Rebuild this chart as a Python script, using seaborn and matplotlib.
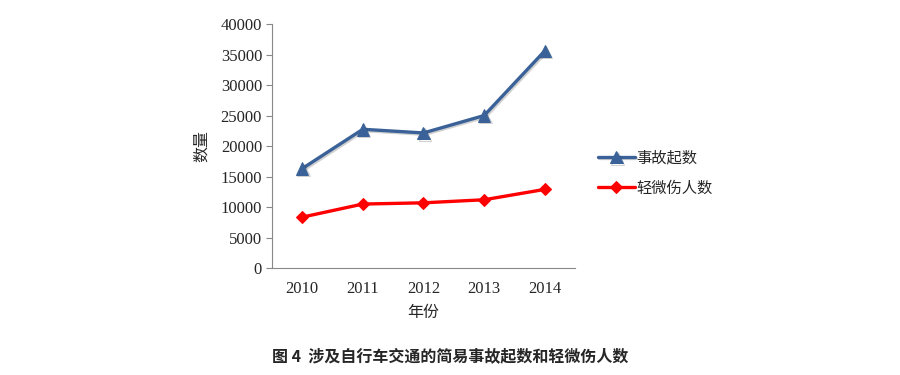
import pandas as pd
import matplotlib
matplotlib.use("Agg")
import matplotlib.pyplot as plt
import matplotlib.patheffects as pe
import seaborn as sns

# data
years = ["2010", "2011", "2012", "2013", "2014"]
accidents = [16300, 22750, 22150, 25000, 35600]
injured = [8350, 10500, 10700, 11200, 12900]
y_ticks = [0, 5000, 10000, 15000, 20000, 25000, 30000, 35000, 40000]

sns.set_style("white")
plt.rcParams['font.family'] = ['Liberation Serif', 'Noto Sans CJK SC']
cjk = ['Noto Sans CJK SC', 'DejaVu Sans']

df = pd.DataFrame({"年份": years, "事故起数": accidents, "轻微伤人数": injured})

fig = plt.figure(figsize=(9, 3.75), dpi=100)
ax = fig.add_axes([0.302, 0.285, 0.337, 0.651])

sns.lineplot(data=df, x="年份", y="事故起数", ax=ax, color="#3A6298",
             linewidth=2.4, marker="^", markersize=9, markeredgecolor="#3A6298",
             label="事故起数", sort=False,
             path_effects=[pe.SimpleLineShadow(offset=(1, -1), alpha=0.18), pe.Normal()])
sns.lineplot(data=df, x="年份", y="轻微伤人数", ax=ax, color="#FF0000",
             linewidth=2.4, marker="D", markersize=6, markeredgecolor="#FF0000",
             label="轻微伤人数", sort=False)

ax.set_xlim(-0.5, 4.5)
ax.set_ylim(0, 40000)
ax.set_yticks(y_ticks)
ax.set_yticklabels([str(v) for v in y_ticks], fontsize=12)
ax.set_xticks(range(len(years)))
ax.set_xticklabels(years, fontsize=12)
ax.set_xticks([i - 0.5 for i in range(len(years) + 1)], minor=True)
ax.tick_params(axis="x", which="major", length=0, pad=9)
ax.tick_params(axis="x", which="minor", length=4, color="#888888", direction="out")
ax.tick_params(axis="y", length=4, color="#888888", direction="out", left=True, pad=3)

for side in ["top", "right"]:
    ax.spines[side].set_visible(False)
for side in ["left", "bottom"]:
    ax.spines[side].set_color("#888888")
    ax.spines[side].set_linewidth(0.8)

ax.set_ylabel("数量", family=cjk, fontsize=11.5, labelpad=8)
ax.set_xlabel("年份", family=cjk, fontsize=11.5, labelpad=5)

leg = ax.legend(loc="center left", bbox_to_anchor=(1.03, 0.39), frameon=False,
                prop={"family": cjk, "size": 11}, handlelength=2.4,
                handletextpad=0.1, labelspacing=0.85)

fig.text(0.5, 0.05, "图 4  涉及自行车交通的简易事故起数和轻微伤人数",
         ha="center", va="center", family=cjk, fontsize=11.5, fontweight="bold")

fig.savefig("out.png", dpi=100)
